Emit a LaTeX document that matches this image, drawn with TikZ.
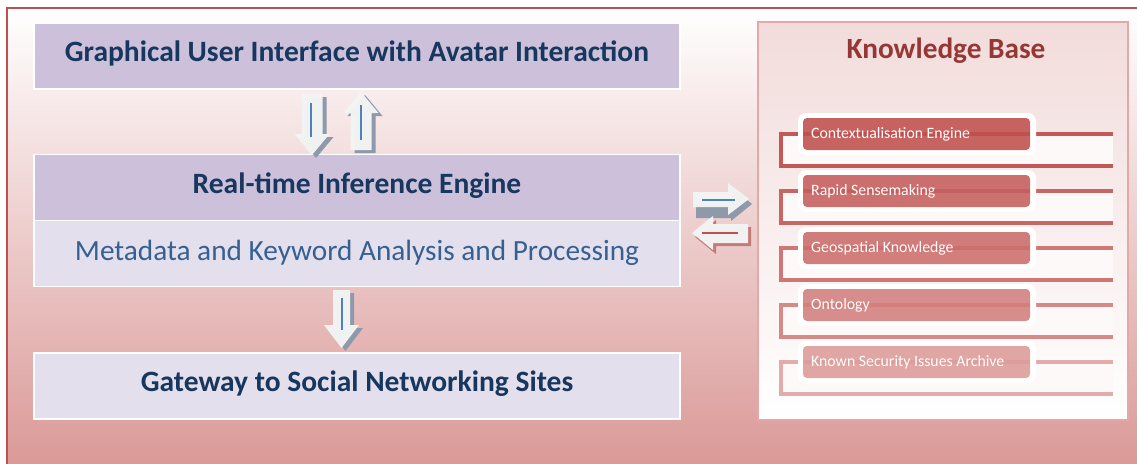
\documentclass[tikz,border=0pt]{standalone}
\usepackage{fontspec}
\setmainfont{Carlito}
\usetikzlibrary{calc}
\definecolor{frameRed}{HTML}{C0504D}
\definecolor{bgPink}{HTML}{D99694}
\definecolor{lav}{HTML}{CCC0DA}
\definecolor{lavLight}{HTML}{E4DFEC}
\definecolor{navy}{HTML}{17375E}
\definecolor{midBlue}{HTML}{376092}
\definecolor{kbTitle}{HTML}{953735}
\definecolor{kbTop}{HTML}{F2DCDB}
\definecolor{kbBorder}{HTML}{E3A9A8}
\definecolor{arrFill}{HTML}{F4F4F4}
\definecolor{arrShadow}{HTML}{8E99AC}
\definecolor{arrShadowRed}{HTML}{C27B79}
\definecolor{arrBlue}{HTML}{4F81BD}
\definecolor{itA}{HTML}{C0504D}
\definecolor{itB}{HTML}{C55F5D}
\definecolor{itC}{HTML}{CB6D6B}
\definecolor{itD}{HTML}{D27F7D}
\definecolor{itE}{HTML}{DC9B99}
\definecolor{brA}{HTML}{C45856}
\definecolor{brB}{HTML}{C86664}
\definecolor{brC}{HTML}{CE7775}
\definecolor{brD}{HTML}{D68A88}
\definecolor{brE}{HTML}{E2ACAB}
\definecolor{slotFill}{HTML}{FEF9F9}
\tikzset{
  layerbox/.style={draw=white, line width=1.5pt, minimum width=646pt, minimum height=66pt, inner sep=0pt},
  titlefont/.style={font=\fontsize{29.5}{34}\selectfont\bfseries, text=navy},
  subfont/.style={font=\fontsize{29.3}{34}\selectfont, text=midBlue},
  itemlabel/.style={rounded corners=4pt, fill opacity=0.88, minimum width=227pt, minimum height=32pt, inner sep=0pt},
  itemtext/.style={font=\fontsize{15.8}{18}\selectfont, text=white, anchor=west, inner sep=0pt},
  arrbody/.style={fill=arrFill, fill opacity=0.97},
  arrline/.style={draw=arrBlue, line width=1.3pt},
}
\begin{document}
\begin{tikzpicture}[x=1pt,y=-1pt]
\useasboundingbox (0,0) rectangle (1137,463);
% background and frame
\fill[top color=white, bottom color=bgPink] (7,8) rectangle (1160,480);
\draw[frameRed, line width=2.5pt] (7,8) rectangle (1160,480);

% left stack
\node[layerbox, fill=lav] (gui) at (357,56) {};
\node[titlefont] at (357,53) {Graphical User Interface with Avatar Interaction};
\node[layerbox, fill=lav] (rie) at (357,187.5) {};
\node[titlefont] at (357,186) {Real-time Inference Engine};
\node[layerbox, fill=lavLight] (meta) at (357,253.5) {};
\node[subfont] at (357,252.5) {Metadata and Keyword Analysis and Processing};
\node[layerbox, fill=lavLight] (gate) at (357,386) {};
\node[titlefont] at (357,384) {Gateway to Social Networking Sites};

% down arrow GUI -> engine
\fill[arrShadow] (305.5,97) -- (326.5,97) -- (326.5,137) -- (333.5,137) -- (316,158) -- (298.5,137) -- (305.5,137) -- cycle;
\fill[arrbody] (301.5,94) -- (322.5,94) -- (322.5,134) -- (329.5,134) -- (312,155) -- (294.5,134) -- (301.5,134) -- cycle;
\draw[arrline] (311,103) -- (311,137);
% up arrow engine -> GUI
\fill[arrShadow] (354.5,153) -- (375.5,153) -- (375.5,116) -- (382.5,116) -- (365,95) -- (347.5,116) -- (354.5,116) -- cycle;
\fill[arrbody] (350.5,150) -- (371.5,150) -- (371.5,113) -- (378.5,113) -- (361,92) -- (343.5,113) -- (350.5,113) -- cycle;
\draw[arrline] (361,105) -- (361,140);
% down arrow metadata -> gateway
\fill[arrShadow] (337,293) -- (354,293) -- (354,328) -- (363,328) -- (345.5,351) -- (328,328) -- (337,328) -- cycle;
\fill[arrbody] (333,290) -- (350,290) -- (350,325) -- (359,325) -- (341.5,348) -- (324,325) -- (333,325) -- cycle;
\draw[arrline] (342,298) -- (342,330);

% knowledge base panel
\node[draw=kbBorder, line width=1.5pt, top color=kbTop, bottom color=white, minimum width=370pt, minimum height=398pt, inner sep=0pt] (kb) at (943,221) {};
\node[font=\fontsize{29.3}{34}\selectfont\bfseries, text=kbTitle] (kbt) at (946,51) {Knowledge Base};

\foreach [count=\k from 0] \t/\lc/\bc in {Contextualisation Engine/itA/brA, Rapid Sensemaking/itB/brB, Geospatial Knowledge/itC/brC, Ontology/itD/brD, Known Security Issues Archive/itE/brE} {
  \pgfmathsetmacro\cy{134+57*\k}
  \fill[slotFill] (781,\cy) rectangle (1113,\cy+32);
  \draw[\bc, line width=4pt] (1113,\cy) -- (781,\cy) -- (781,\cy+32) -- (1113,\cy+32);
  \fill[white, even odd rule, rounded corners=8pt] (798,\cy-21) rectangle (1036,\cy+21) [rounded corners=4pt] (803,\cy-16) rectangle (1030,\cy+16);
  \node[itemlabel, fill=\lc] (item\k) at (916.5,\cy) {};
  \node[itemtext] at (811,\cy+0.5) {\t};
}

% double arrows engine <-> knowledge base
\fill[arrShadow] (696,203) -- (731,203) -- (731,187) -- (752,204) -- (731,221) -- (731,218) -- (696,218) -- cycle;
\fill[arrbody] (693,192) -- (728,192) -- (728,183) -- (749,199) -- (728,215) -- (728,207) -- (693,207) -- cycle;
\draw[arrline] (702,200) -- (735,200);
\fill[arrShadowRed] (695,237) -- (716,220) -- (716,227) -- (751,227) -- (751,246) -- (716,246) -- (716,254) -- cycle;
\fill[arrbody] (692,233) -- (713,216) -- (713,224) -- (748,224) -- (748,243) -- (713,243) -- (713,250) -- cycle;
\draw[frameRed, line width=1.3pt] (702,233) -- (738,233);
\end{tikzpicture}
\end{document}
